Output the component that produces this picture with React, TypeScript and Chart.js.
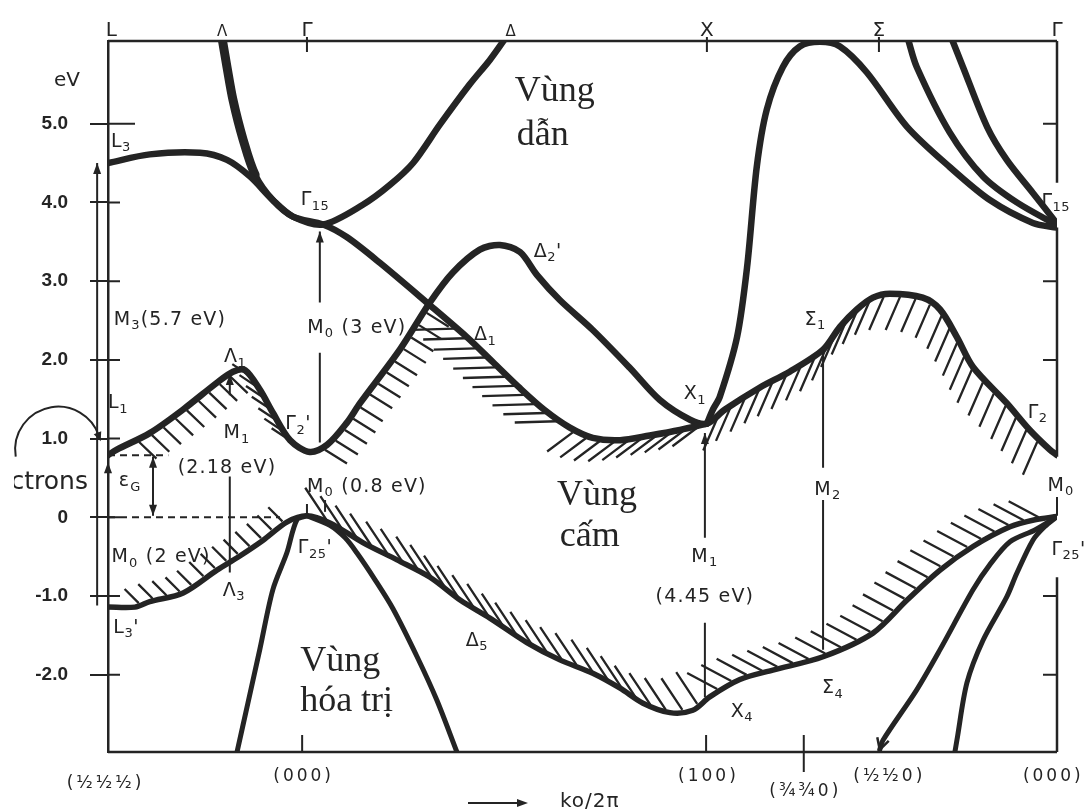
import { useEffect, useRef } from "react";
import { Chart, registerables } from "chart.js";

Chart.register(...registerables);

type Pt = [number, number];

// k runs along L – Γ – X – K – Γ (Γ = 0, X = 1); energies in eV.
const K_MIN = -0.49;
const K_MAX = 1.871;
const E_MIN = -2.98;
const E_MAX = 6.05;

// ---- conduction bands ----
const bandL3G15X1: Pt[] = [
  [-0.49, 4.5], [-0.386, 4.61], [-0.261, 4.63], [-0.194, 4.54], [-0.137, 4.33],
  [-0.08, 4.03], [-0.03, 3.82], [0.045, 3.72], [0.104, 3.56], [0.187, 3.23],
  [0.303, 2.73], [0.403, 2.29], [0.468, 1.97], [0.535, 1.64], [0.597, 1.36],
  [0.659, 1.14], [0.716, 1.01], [0.784, 0.98], [0.858, 1.04], [0.933, 1.11], [1.0, 1.19],
];
const bandLambdaG15Delta: Pt[] = [
  [-0.206, 6.08], [-0.194, 5.72], [-0.179, 5.3], [-0.154, 4.8], [-0.124, 4.35],
  [-0.08, 4.03], [-0.03, 3.82], [0.045, 3.72], [0.144, 3.97], [0.211, 4.22],
  [0.269, 4.5], [0.336, 4.99], [0.41, 5.5], [0.46, 5.81], [0.498, 6.08],
];
const bandL1G2X1G2: Pt[] = [
  [-0.49, 0.79], [-0.468, 0.86], [-0.386, 1.07], [-0.303, 1.37], [-0.219, 1.71],
  [-0.179, 1.85], [-0.149, 1.87], [-0.112, 1.62], [-0.08, 1.33], [-0.037, 0.98],
  [0.012, 0.83], [0.055, 0.92], [0.104, 1.2], [0.137, 1.45], [0.236, 2.13],
  [0.311, 2.73], [0.368, 3.11], [0.435, 3.4], [0.485, 3.46], [0.535, 3.37],
  [0.577, 3.08], [0.634, 2.76], [0.716, 2.38], [0.808, 1.9], [0.883, 1.49],
  [0.958, 1.24], [1.0, 1.19], [1.045, 1.37], [1.132, 1.65], [1.206, 1.85],
  [1.289, 2.13], [1.331, 2.42], [1.373, 2.64], [1.413, 2.79], [1.455, 2.84],
  [1.537, 2.79], [1.58, 2.64], [1.622, 2.29], [1.662, 1.91], [1.746, 1.45],
  [1.803, 1.11], [1.853, 0.86], [1.871, 0.79],
];
const bandX1G15: Pt[] = [
  [1.0, 1.19], [1.015, 1.37], [1.032, 1.53], [1.075, 2.29], [1.1, 3.18],
  [1.124, 4.45], [1.149, 5.18], [1.189, 5.72], [1.231, 5.98], [1.281, 6.04],
  [1.331, 5.98], [1.398, 5.65], [1.498, 4.96], [1.604, 4.45], [1.704, 4.03],
  [1.811, 3.74], [1.871, 3.68],
];
const bandSigmaUpperA: Pt[] = [
  [1.5, 6.08], [1.522, 5.72], [1.604, 4.89], [1.687, 4.33], [1.771, 4.0], [1.871, 3.71],
];
const bandSigmaUpperB: Pt[] = [
  [1.609, 6.08], [1.637, 5.72], [1.697, 4.96], [1.746, 4.54], [1.811, 4.12], [1.871, 3.73],
];

// ---- valence bands ----
const bandValenceTop: Pt[] = [
  [-0.49, -1.14], [-0.423, -1.14], [-0.386, -1.07], [-0.303, -0.96], [-0.219, -0.67],
  [-0.162, -0.49], [-0.104, -0.29], [-0.045, -0.06], [0.005, 0.02], [0.062, -0.07],
  [0.144, -0.32], [0.229, -0.54], [0.311, -0.76], [0.386, -1.05], [0.46, -1.28],
  [0.552, -1.59], [0.634, -1.81], [0.716, -1.98], [0.784, -2.17], [0.841, -2.36],
  [0.908, -2.48], [0.965, -2.45], [1.007, -2.28], [1.082, -2.06], [1.164, -1.94],
  [1.289, -1.77], [1.413, -1.47], [1.498, -1.05], [1.58, -0.67], [1.662, -0.37],
  [1.754, -0.12], [1.816, -0.03], [1.871, 0.01],
];
const bandValenceGL: Pt[] = [
  [0.005, 0.02], [-0.02, -0.03], [-0.045, -0.45], [-0.08, -0.92], [-0.112, -1.67],
  [-0.142, -2.36], [-0.169, -2.98],
];
const bandValenceGX: Pt[] = [
  [0.005, 0.02], [0.062, -0.1], [0.1, -0.26], [0.129, -0.45], [0.174, -0.79],
  [0.219, -1.16], [0.279, -1.77], [0.328, -2.32], [0.378, -2.98],
];
const bandValenceSigmaA: Pt[] = [
  [1.871, 0.01], [1.816, -0.16], [1.754, -0.31], [1.704, -0.6], [1.662, -0.92],
  [1.58, -1.68], [1.522, -2.19], [1.438, -2.83], [1.43, -2.95],
];
const bandValenceSigmaB: Pt[] = [
  [1.871, 0.01], [1.84, -0.12], [1.811, -0.29], [1.771, -0.71], [1.746, -1.01],
  [1.687, -1.56], [1.647, -2.1], [1.622, -2.83], [1.617, -2.98],
];

// ---- axes ----
const yTickValues = [-2, -1, 0, 1, 2, 3, 4, 5];
const topSymbols = ["L", "Λ", "Γ", "Δ", "X", "Σ", "Γ"];
const topSymbolK = [-0.482, -0.206, 0.005, 0.512, 1.0, 1.428, 1.871];
const bottomLabels = ["(½½½)", "(000)", "(100)", "(¾¾0)", "(½½0)", "(000)"];
const bottomLabelK = [-0.5, -0.007, 1.0, 1.241, 1.45, 1.858];
const topTickK = [0.005, 1.0, 1.428];
const bottomTickK = [-0.007, 0.998, 1.241];

// ---- critical-point symbols ----
const stateLabels = [
  { k: -0.458, e: 4.77, text: "L_{3}" },
  { k: 0.025, e: 4.03, text: "Γ_{15}" },
  { k: 0.604, e: 3.37, text: "Δ_{2}'" },
  { k: -0.174, e: 2.03, text: "Λ_{1}" },
  { k: -0.465, e: 1.45, text: "L_{1}" },
  { k: -0.017, e: 1.18, text: "Γ_{2}'" },
  { k: 0.448, e: 2.31, text: "Δ_{1}" },
  { k: 0.97, e: 1.56, text: "X_{1}" },
  { k: 1.269, e: 2.51, text: "Σ_{1}" },
  { k: 1.823, e: 1.33, text: "Γ_{2}" },
  { k: 1.868, e: 4.01, text: "Γ_{15}" },
  { k: 0.025, e: -0.39, text: "Γ_{25}'" },
  { k: 1.9, e: -0.41, text: "Γ_{25}'" },
  { k: -0.177, e: -0.93, text: "Λ_{3}" },
  { k: -0.445, e: -1.4, text: "L_{3}'" },
  { k: 0.428, e: -1.57, text: "Δ_{5}" },
  { k: 1.087, e: -2.47, text: "X_{4}" },
  { k: 1.313, e: -2.17, text: "Σ_{4}" },
];

// ---- optical transitions ----
const transitionLabels = [
  { k: -0.336, e: 2.51, text: "M_{3}(5.7 eV)" },
  { k: 0.129, e: 2.41, text: "M_{0} (3 eV)" },
  { k: -0.169, e: 1.07, text: "M_{1}" },
  { k: -0.194, e: 0.63, text: "(2.18 eV)" },
  { k: -0.435, e: 0.46, text: "ε_{G}" },
  { k: 0.154, e: 0.39, text: "M_{0} (0.8 eV)" },
  { k: 1.301, e: 0.35, text: "M_{2}" },
  { k: 1.881, e: 0.4, text: "M_{0}" },
  { k: -0.358, e: -0.51, text: "M_{0} (2 eV)" },
  { k: 0.995, e: -0.5, text: "M_{1}" },
  { k: 0.995, e: -1.01, text: "(4.45 eV)" },
];
const transitions = [
  { k: -0.517, spans: [[-1.12, 4.5]], head: "up" },
  { k: -0.49, spans: [[-1.12, -0.64], [-0.27, 0.7]], head: "up" },
  { k: -0.378, spans: [[0.02, 0.77]], head: "both" },
  { k: -0.187, spans: [[-0.7, 0.52], [1.55, 1.82]], head: "up" },
  { k: 0.037, spans: [[0.95, 2.09], [2.73, 3.63]], head: "up" },
  { k: 0.005, spans: [[0.05, 0.17]], head: "none" },
  { k: 0.05, spans: [[0.07, 0.22]], head: "none" },
  { k: 0.995, spans: [[-2.28, -1.34], [-0.26, 1.07]], head: "up" },
  { k: 1.289, spans: [[-1.68, 0.22], [0.63, 2.1]], head: "none" },
  { k: 1.871, spans: [[0.02, 0.26]], head: "none" },
];
const dashedLevels = [
  { e: 0, from: -0.49, to: -0.062 },
  { e: 0.79, from: -0.49, to: -0.34 },
];

// ---- region names ----
const regionLines = [
  { k: 0.522, e: 5.29, text: "Vùng" },
  { k: 0.527, e: 4.73, text: "dẫn" },
  { k: 0.627, e: 0.16, text: "Vùng" },
  { k: 0.634, e: -0.37, text: "cấm" },
  { k: -0.012, e: -1.95, text: "Vùng" },
  { k: -0.012, e: -2.46, text: "hóa trị" },
];

const INK = "#242424";

const bandDefs = [
  { key: "L3", data: bandL3G15X1, width: 6.5 },
  { key: "LamDelta", data: bandLambdaG15Delta, width: 6.5 },
  { key: "L1", data: bandL1G2X1G2, width: 6.5 },
  { key: "X1G15", data: bandX1G15, width: 6.5 },
  { key: "SigA", data: bandSigmaUpperA, width: 6.5 },
  { key: "SigB", data: bandSigmaUpperB, width: 6.5 },
  { key: "VTop", data: bandValenceTop, width: 5.5 },
  { key: "VGL", data: bandValenceGL, width: 5 },
  { key: "VGX", data: bandValenceGX, width: 5 },
  { key: "VSA", data: bandValenceSigmaA, width: 5 },
  { key: "VSB", data: bandValenceSigmaB, width: 5 },
];

// hatching beside band edges: k-range, spacing, direction and stroke length in px
const hatchSpans = [
  { band: "L1", from: -0.43, to: -0.165, gap: 13, dx: 0.72, dy: 0.69, len: 24 },
  { band: "L1", from: -0.14, to: -0.03, gap: 12, dx: -0.83, dy: -0.55, len: 20 },
  { band: "L1", from: 0.03, to: 0.3, gap: 13, dx: 0.85, dy: 0.53, len: 26 },
  { band: "L1", from: 1.02, to: 1.85, gap: 15, dx: -0.4, dy: 0.92, len: 36 },
  { band: "L3", from: 0.37, to: 0.66, gap: 13, dx: -1, dy: 0.03, len: 42 },
  { band: "L3", from: 0.66, to: 0.99, gap: 14, dx: -0.8, dy: 0.6, len: 32 },
  { band: "VTop", from: -0.42, to: -0.04, gap: 13, dx: -0.7, dy: -0.7, len: 20 },
  { band: "VTop", from: 0.04, to: 0.98, gap: 16, dx: -0.55, dy: -0.83, len: 38 },
  { band: "VTop", from: 1.02, to: 1.84, gap: 15, dx: -0.88, dy: -0.47, len: 34 },
];

function richParts(text: string) {
  const parts: { t: string; sub: boolean }[] = [];
  const re = /_\{([^}]*)\}/g;
  let last = 0;
  let m: RegExpExecArray | null;
  while ((m = re.exec(text))) {
    if (m.index > last) parts.push({ t: text.slice(last, m.index), sub: false });
    parts.push({ t: m[1], sub: true });
    last = re.lastIndex;
  }
  if (last < text.length) parts.push({ t: text.slice(last), sub: false });
  return parts;
}

function drawRich(ctx: any, text: string, x: number, y: number, size: number, spacing = 0) {
  const parts = richParts(text);
  const main = `${size}px "DejaVu Sans"`;
  const sub = `${Math.round(size * 0.66)}px "DejaVu Sans"`;
  ctx.letterSpacing = `${spacing}px`;
  let w = 0;
  for (const p of parts) {
    ctx.font = p.sub ? sub : main;
    w += ctx.measureText(p.t).width;
  }
  let cx = x - w / 2;
  ctx.textAlign = "left";
  ctx.textBaseline = "middle";
  for (const p of parts) {
    ctx.font = p.sub ? sub : main;
    ctx.fillText(p.t, cx, p.sub ? y + size * 0.32 : y);
    cx += ctx.measureText(p.t).width;
  }
  ctx.letterSpacing = "0px";
}

function arrowHead(ctx: any, x: number, y: number, dx: number, dy: number, len = 10, half = 4) {
  const n = Math.hypot(dx, dy);
  dx /= n;
  dy /= n;
  ctx.beginPath();
  ctx.moveTo(x, y);
  ctx.lineTo(x - dx * len - dy * half, y - dy * len + dx * half);
  ctx.lineTo(x - dx * len + dy * half, y - dy * len - dx * half);
  ctx.closePath();
  ctx.fill();
}

function curvePixels(chart: any, index: number) {
  const pts = chart.getDatasetMeta(index).data as any[];
  const out: { x: number; y: number }[] = [];
  for (let i = 0; i < pts.length - 1; i++) {
    const a = pts[i];
    const b = pts[i + 1];
    const c1x = a.cp2x ?? a.x, c1y = a.cp2y ?? a.y;
    const c2x = b.cp1x ?? b.x, c2y = b.cp1y ?? b.y;
    for (let s = 0; s < 20; s++) {
      const t = s / 20, u = 1 - t;
      out.push({
        x: u * u * u * a.x + 3 * u * u * t * c1x + 3 * u * t * t * c2x + t * t * t * b.x,
        y: u * u * u * a.y + 3 * u * u * t * c1y + 3 * u * t * t * c2y + t * t * t * b.y,
      });
    }
  }
  const z = pts[pts.length - 1];
  out.push({ x: z.x, y: z.y });
  return out;
}

const overlay = {
  id: "bandOverlay",
  afterDraw(chart: any) {
    const { ctx, chartArea: ca } = chart;
    const xs = chart.scales.x;
    const ys = chart.scales.y;
    const px = (k: number) => xs.getPixelForValue(k);
    const py = (e: number) => ys.getPixelForValue(e);
    ctx.save();
    ctx.strokeStyle = INK;
    ctx.fillStyle = INK;
    ctx.lineCap = "butt";

    // frame: top, bottom and the broken right edge
    ctx.lineWidth = 2.5;
    ctx.beginPath();
    ctx.moveTo(ca.left, ca.top);
    ctx.lineTo(ca.right, ca.top);
    ctx.moveTo(ca.left, ca.bottom);
    ctx.lineTo(ca.right, ca.bottom);
    for (const [a, b] of [[4.25, E_MAX], [0.77, 3.68], [E_MIN, -0.76]]) {
      ctx.moveTo(ca.right, py(a));
      ctx.lineTo(ca.right, py(b));
    }
    ctx.stroke();

    // tick marks
    ctx.lineWidth = 2;
    ctx.beginPath();
    for (const v of yTickValues) {
      const inner = v === 5 ? 27 : 12;
      ctx.moveTo(ca.left, py(v));
      ctx.lineTo(ca.left + inner, py(v));
    }
    for (const v of [5, 3, 2, -1, -2]) {
      ctx.moveTo(ca.right, py(v));
      ctx.lineTo(ca.right - 14, py(v));
    }
    for (const k of topTickK) {
      ctx.moveTo(px(k), ca.top - 4);
      ctx.lineTo(px(k), ca.top + 11);
    }
    for (const k of bottomTickK) {
      const low = k > 1.1 ? 20 : 0;
      ctx.moveTo(px(k), ca.bottom - 17);
      ctx.lineTo(px(k), ca.bottom + low);
    }
    ctx.stroke();

    // hatching
    ctx.lineWidth = 2.3;
    const paths: Record<string, { x: number; y: number }[]> = {};
    bandDefs.forEach((b, i) => (paths[b.key] = curvePixels(chart, i)));
    for (const h of hatchSpans) {
      const path = paths[h.band];
      const xa = px(h.from), xb = px(h.to);
      const n = Math.hypot(h.dx, h.dy);
      const dx = h.dx / n, dy = h.dy / n;
      let acc = h.gap * 0.6;
      ctx.beginPath();
      for (let i = 1; i < path.length; i++) {
        const p = path[i], q = path[i - 1];
        if (p.x < xa || p.x > xb) continue;
        acc += Math.hypot(p.x - q.x, p.y - q.y);
        if (acc >= h.gap) {
          acc = 0;
          ctx.moveTo(p.x + dx * 3, p.y + dy * 3);
          ctx.lineTo(p.x + dx * (3 + h.len), p.y + dy * (3 + h.len));
        }
      }
      ctx.stroke();
    }

    // arrow tip at the foot of the outer Σ valence band
    {
      const path = paths["VSA"];
      const a = path[path.length - 1], b = path[path.length - 4];
      ctx.lineWidth = 2.5;
      const dx = a.x - b.x, dy = a.y - b.y;
      const n = Math.hypot(dx, dy);
      const ux = dx / n, uy = dy / n;
      ctx.beginPath();
      ctx.moveTo(a.x - ux * 11 - uy * 6, a.y - uy * 11 + ux * 6);
      ctx.lineTo(a.x, a.y);
      ctx.lineTo(a.x - ux * 11 + uy * 6, a.y - uy * 11 - ux * 6);
      ctx.stroke();
    }

    // transitions
    ctx.lineWidth = 2;
    for (const t of transitions) {
      const x = px(t.k);
      ctx.beginPath();
      for (const [a, b] of t.spans) {
        ctx.moveTo(x, py(a));
        ctx.lineTo(x, py(b));
      }
      ctx.stroke();
      const lastSpan = t.spans[t.spans.length - 1];
      if (t.head === "up" || t.head === "both") arrowHead(ctx, x, py(lastSpan[1]), 0, -1, 11, 4);
      if (t.head === "both") arrowHead(ctx, x, py(t.spans[0][0]), 0, 1, 11, 4);
    }

    // dashed reference levels
    ctx.setLineDash([7, 5]);
    ctx.lineWidth = 2;
    ctx.beginPath();
    for (const d of dashedLevels) {
      ctx.moveTo(px(d.from), py(d.e));
      ctx.lineTo(px(d.to), py(d.e));
    }
    ctx.stroke();
    ctx.setLineDash([]);

    // pointer arc from the carriers' note to L1
    {
      const cx = px(-0.614), cy = py(0.86), r = 43;
      ctx.lineWidth = 2;
      ctx.beginPath();
      ctx.arc(cx, cy, r, 2.98, 5.94, false);
      ctx.stroke();
      const ex = cx + r * Math.cos(5.94), ey = cy + r * Math.sin(5.94);
      arrowHead(ctx, ex + 2, ey + 6, 0.35, 0.94, 9, 4);
    }

    // text
    ctx.fillStyle = INK;
    for (const l of stateLabels) drawRich(ctx, l.text, px(l.k), py(l.e), 19, 0.5);
    for (const l of transitionLabels) drawRich(ctx, l.text, px(l.k), py(l.e), 19, 1.2);

    // carriers' note, trimmed at the sheet's left margin
    ctx.save();
    ctx.beginPath();
    ctx.rect(14, 0, ca.left, chart.height);
    ctx.clip();
    ctx.font = '25px "DejaVu Sans"';
    ctx.textAlign = "right";
    ctx.textBaseline = "middle";
    ctx.fillText("electrons", px(-0.54), py(0.44));
    ctx.restore();

    ctx.font = '20px "DejaVu Sans"';
    ctx.textAlign = "center";
    ctx.textBaseline = "middle";
    ctx.fillText("eV", px(-0.592), py(5.55));

    ctx.font = '36px "Liberation Serif"';
    ctx.textAlign = "left";
    ctx.textBaseline = "alphabetic";
    for (const r of regionLines) ctx.fillText(r.text, px(r.k), py(r.e));

    // symmetry points above the frame
    ctx.textAlign = "center";
    ctx.textBaseline = "alphabetic";
    topSymbols.forEach((s, i) => {
      const small = s === "Λ" || s === "Δ";
      ctx.font = `${small ? 15 : 20}px "DejaVu Sans"`;
      ctx.fillText(s, px(topSymbolK[i]), ca.top - 5);
    });

    // wave-vector coordinates under the frame
    ctx.textBaseline = "middle";
    ctx.font = '17px "DejaVu Sans"';
    (ctx as any).letterSpacing = "3px";
    bottomLabels.forEach((s, i) => {
      const dy = s === "(¾¾0)" ? 40 : s === "(½½½)" ? 32 : 25;
      ctx.fillText(s, px(bottomLabelK[i]) + 1.5, ca.bottom + dy);
    });
    (ctx as any).letterSpacing = "1px";

    // axis caption
    ctx.lineWidth = 2;
    ctx.beginPath();
    ctx.moveTo(468, 803);
    ctx.lineTo(520, 803);
    ctx.stroke();
    arrowHead(ctx, 528, 803, 1, 0, 11, 4);
    ctx.font = '20px "DejaVu Sans"';
    ctx.textAlign = "left";
    ctx.fillText("ko/2π", 560, 802);
    (ctx as any).letterSpacing = "0px";

    ctx.restore();
  },
};

export default function App() {
  const ref = useRef<HTMLCanvasElement | null>(null);

  useEffect(() => {
    if (!ref.current) return;
    const datasets = bandDefs.map((b) => ({
      label: b.key,
      data: b.data.map(([x, y]) => ({ x, y })),
      borderColor: INK,
      borderWidth: b.width,
      pointRadius: 0,
      fill: false,
      tension: 0.3,
      borderCapStyle: "round" as const,
      borderJoinStyle: "round" as const,
      segment:
        b.key === "LamDelta"
          ? { borderWidth: (c: any) => (c.p0DataIndex < 4 ? 9 : 6.5) }
          : undefined,
    }));

    const chart = new Chart(ref.current, {
      type: "line",
      data: { datasets },
      options: {
        animation: false,
        responsive: false,
        devicePixelRatio: 1,
        events: [],
        layout: { padding: { top: 41, right: 28, bottom: 60, left: 0 } },
        plugins: { legend: { display: false }, tooltip: { enabled: false } },
        scales: {
          x: { type: "linear", min: K_MIN, max: K_MAX, display: false },
          y: {
            type: "linear",
            min: E_MIN,
            max: E_MAX,
            afterFit: (s: any) => {
              s.width = 108;
            },
            afterBuildTicks: (s: any) => {
              s.ticks = yTickValues.map((v) => ({ value: v }));
            },
            ticks: {
              callback: (v: any) => (Number(v) === 0 ? "0" : Number(v).toFixed(1)),
              color: INK,
              padding: 22,
              font: { family: "Liberation Sans", size: 19, weight: "bold" },
            },
            grid: { drawOnChartArea: false, tickLength: 18, color: INK, lineWidth: 2 },
            border: { display: true, color: INK, width: 2.5 },
          },
        },
      },
      plugins: [overlay],
    } as any);

    return () => chart.destroy();
  }, []);

  return (
    <div
      style={{
        position: "fixed",
        left: 0,
        top: 0,
        width: 1085,
        height: 812,
        background: "#ffffff",
      }}
    >
      <canvas ref={ref} width={1085} height={812} style={{ display: "block" }} />
    </div>
  );
}
